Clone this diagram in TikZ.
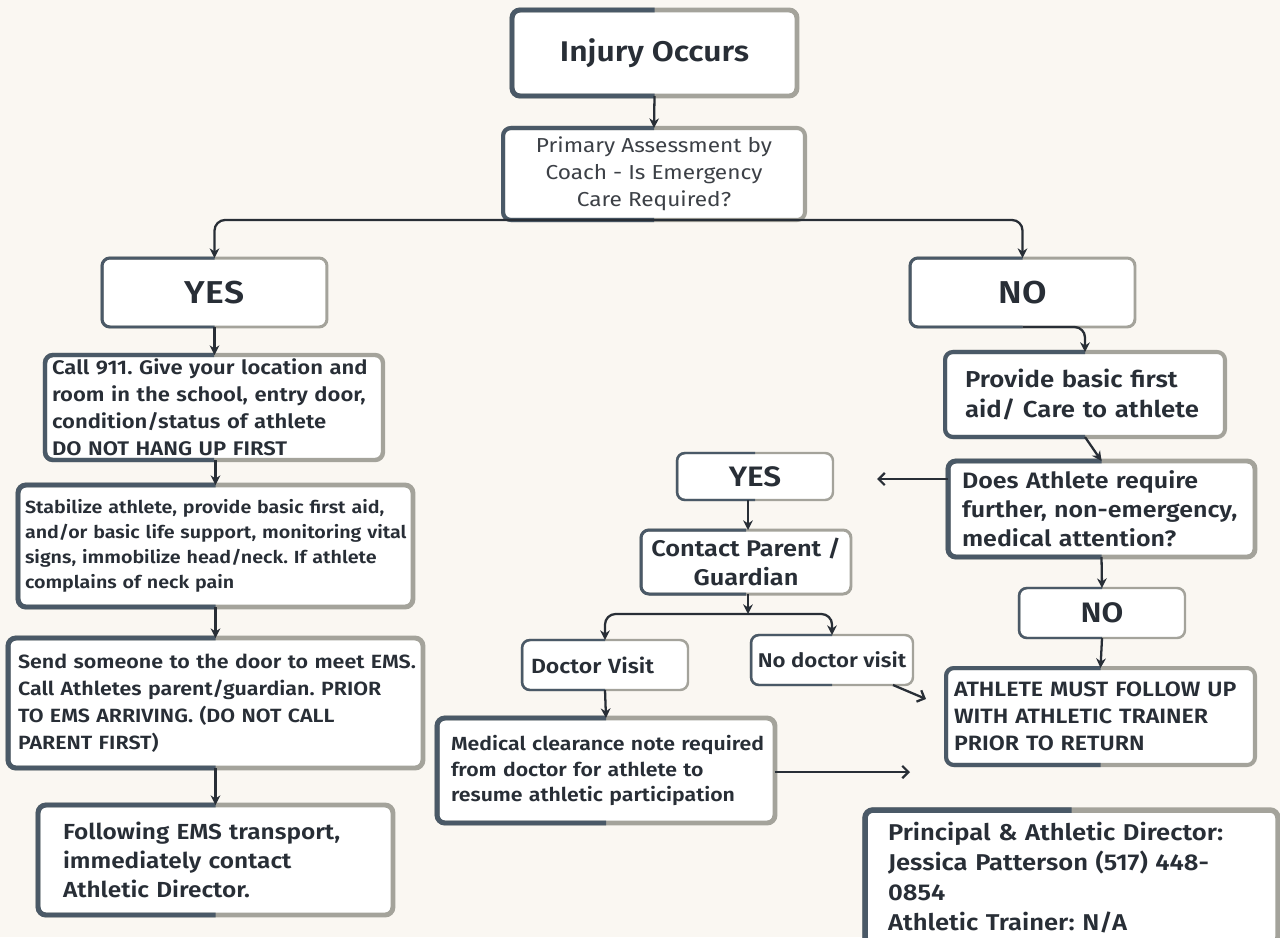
\documentclass[tikz,border=0pt]{standalone}
\usepackage{fontspec}
\setmainfont{Fira Sans}[BoldFont={Fira Sans SemiBold},FakeStretch=1.12]
\usetikzlibrary{positioning,calc,arrows.meta}
\definecolor{bgcream}{RGB}{250,247,242}
\definecolor{edgedark}{RGB}{74,89,103}
\definecolor{edgegray}{RGB}{164,163,155}
\definecolor{inkdark}{RGB}{40,46,54}
\definecolor{inksoft}{RGB}{60,64,70}
\newcommand{\fsz}[2]{\fontsize{#1pt}{#2pt}\selectfont}
\newcommand{\darkhalf}[2]{\draw[edgedark,line width=#2,rounded corners=4.5pt] (#1.north) -| (#1.west) |- (#1.south);}
\frenchspacing

\begin{document}
\begin{tikzpicture}[x=0.02cm,y=-0.02cm]
	\tikzset{
		flowbox/.style={draw=edgegray,fill=white,rounded corners=4.5pt,outer sep=0pt,text=inkdark,inner ysep=2pt},
		flow/.style={-{Stealth[length=5.5pt,width=5.5pt]},inkdark,line width=1.3pt},
		flowopen/.style={-{Straight Barb[length=3.5pt,width=7pt]},inkdark,line width=1.3pt},
	}
	\useasboundingbox (0,0) rectangle (1280,937);
	\clip (0,0) rectangle (1280,937);
	\fill[bgcream] (0,0) rectangle (1280,937);

	% emergency side
	\node[flowbox,line width=2.8pt,minimum width=5.70cm,minimum height=1.72cm,font=\bfseries\fsz{16.2}{19}] (injury) at (654.5,53) {Injury Occurs};
	\node[flowbox,line width=2.3pt,minimum width=6.04cm,minimum height=1.84cm,align=center,text=inksoft,font=\fsz{11.5}{15.3}] (prim) at (654,174) {Primary Assessment by\\Coach - Is Emergency\\Care Required?};
	\node[flowbox,line width=1.7pt,minimum width=4.5cm,minimum height=1.38cm,font=\bfseries\fsz{18}{21}] (yes) at (214.5,292.5) {YES};
	\node[flowbox,line width=1.7pt,minimum width=4.5cm,minimum height=1.38cm,font=\bfseries\fsz{18}{21}] (no) at (1022.5,292.5) {NO};
	\node[flowbox,line width=2.5pt,minimum width=6.76cm,minimum height=2.10cm,text width=6.48cm,inner xsep=0.14cm,align=left,font=\bfseries\fsz{11.2}{15.3}] (call) at (214,407.5) {Call 911. Give your location and\\room in the school, entry door,\\condition/status of athlete\\DO NOT HANG UP FIRST};
	\node[flowbox,line width=2.8pt,minimum width=7.90cm,minimum height=2.44cm,text width=7.62cm,inner xsep=0.14cm,align=left,font=\bfseries\fsz{10}{14.2}] (stab) at (215.5,546) {Stabilize athlete, provide basic first aid,\\\mbox{and/or basic life support, monitoring vital}\\signs, immobilize head/neck. If athlete\\complains of neck pain};
	\node[flowbox,line width=2.8pt,minimum width=8.30cm,minimum height=2.60cm,text width=7.90cm,inner xsep=0.2cm,align=left,font=\bfseries\fsz{10.9}{15.3}] (send) at (215.5,703) {\mbox{Send someone to the door to meet EMS.}\\Call Athletes parent/guardian. PRIOR\\TO EMS ARRIVING. (DO NOT CALL\\PARENT FIRST)};
	\node[flowbox,line width=2.8pt,minimum width=7.10cm,minimum height=2.20cm,text width=6.10cm,inner xsep=0.5cm,align=left,font=\bfseries\fsz{12.4}{16.4}] (follow) at (215.5,860) {Following EMS transport,\\immediately contact\\Athletic Director.};

	% non-emergency side
	\node[flowbox,line width=2.3pt,minimum width=5.60cm,minimum height=1.70cm,text width=4.80cm,inner xsep=0.4cm,align=left,font=\bfseries\fsz{13.1}{17.6}] (firstaid) at (1085,394.5) {Provide basic first\\aid/ Care to athlete};
	\node[flowbox,line width=2.8pt,minimum width=6.14cm,minimum height=1.92cm,text width=5.58cm,inner xsep=0.28cm,align=left,font=\bfseries\fsz{12.7}{16.4}] (does) at (1101.5,509) {Does Athlete require\\further, non-emergency,\\medical attention?};
	\node[flowbox,line width=1.4pt,minimum width=3.12cm,minimum height=0.94cm,font=\bfseries\fsz{16}{18}] (yes2) at (755,476.5) {YES};
	\node[flowbox,line width=1.7pt,minimum width=4.20cm,minimum height=1.28cm,align=center,font=\bfseries\fsz{12.9}{16.4}] (contact) at (746,562) {Contact Parent /\\Guardian};
	\node[flowbox,line width=1.4pt,minimum width=3.32cm,minimum height=1.00cm,text width=2.96cm,inner xsep=0.18cm,align=left,font=\bfseries\fsz{11.7}{13}] (doc) at (605,665) {Doctor Visit};
	\node[flowbox,line width=1.4pt,minimum width=3.24cm,minimum height=1.00cm,font=\bfseries\fsz{11.3}{13}] (nodoc) at (832,660) {No doctor visit};
	\node[flowbox,line width=2.8pt,minimum width=6.76cm,minimum height=2.10cm,text width=6.20cm,inner xsep=0.28cm,align=left,font=\bfseries\fsz{10.8}{14.7}] (med) at (606,770.5) {\mbox{Medical clearance note required}\\from doctor for athlete to\\resume athletic participation};
	\node[flowbox,line width=1.4pt,minimum width=3.32cm,minimum height=1.00cm,font=\bfseries\fsz{16}{18}] (no2) at (1102,613) {NO};
	\node[flowbox,line width=2.3pt,minimum width=6.18cm,minimum height=1.94cm,text width=5.86cm,inner xsep=0.16cm,align=left,font=\bfseries\fsz{11.8}{15.3}] (must) at (1100.5,716.5) {ATHLETE MUST FOLLOW UP\\WITH ATHLETIC TRAINER\\PRIOR TO RETURN};
	\node[flowbox,line width=3.1pt,minimum width=8.26cm,minimum height=2.70cm,text width=7.34cm,inner xsep=0.46cm,align=left,font=\bfseries\fsz{13}{17}] (princ) at (1071.5,877.5) {Principal \& Athletic Director:\\Jessica Patterson (517) 448-\\0854\\Athletic Trainer: N/A};

	\foreach \n/\w in {injury/2.8pt,prim/2.3pt,yes/1.7pt,no/1.7pt,call/2.5pt,stab/2.8pt,send/2.8pt,follow/2.8pt,firstaid/2.3pt,does/2.8pt,yes2/1.4pt,contact/1.7pt,doc/1.4pt,nodoc/1.4pt,med/2.8pt,no2/1.4pt,must/2.3pt,princ/3.1pt}
		{\darkhalf{\n}{\w}}

	\coordinate (split) at (748,614);
	\coordinate (askend) at (877,479);
	\coordinate (medend) at (910,772);
	\coordinate (nodocend) at (926,699);

	\draw[flow] (injury.south) -- (prim.north);
	\draw[flow,rounded corners=6pt] (prim.south) -| (yes.north);
	\draw[flow,rounded corners=6pt] (prim.south) -| (no.north);
	\draw[flow] (yes.south) -- (yes.south |- call.north);
	\draw[flow] (call.south -| stab.north) -- (stab.north);
	\draw[flow] (stab.south) -- (send.north);
	\draw[flow] (send.south) -- (follow.north);
	\draw[flow,rounded corners=6pt] (no.south) -| (firstaid.north);
	\draw[flow] (firstaid.south) -- (does.north);
	\draw[flowopen] (does.west |- askend) -- (askend);
	\draw[flow] (yes2.south -| split) -- (split |- contact.north);
	\draw[flow] (contact.south -| split) -- (split);
	\draw[flow,rounded corners=6pt] (split) -| (doc.north);
	\draw[flow,rounded corners=6pt] (split) -| (nodoc.north);
	\draw[flowopen] ($(nodoc.south east)+(-20,0)$) -- (nodocend);
	\draw[flow] (doc.south) -- (med.north);
	\draw[flowopen] (med.east |- medend) -- (medend);
	\draw[flow] (does.south) -- (no2.north);
	\draw[flow] (no2.south) -- (must.north);
\end{tikzpicture}
\end{document}
